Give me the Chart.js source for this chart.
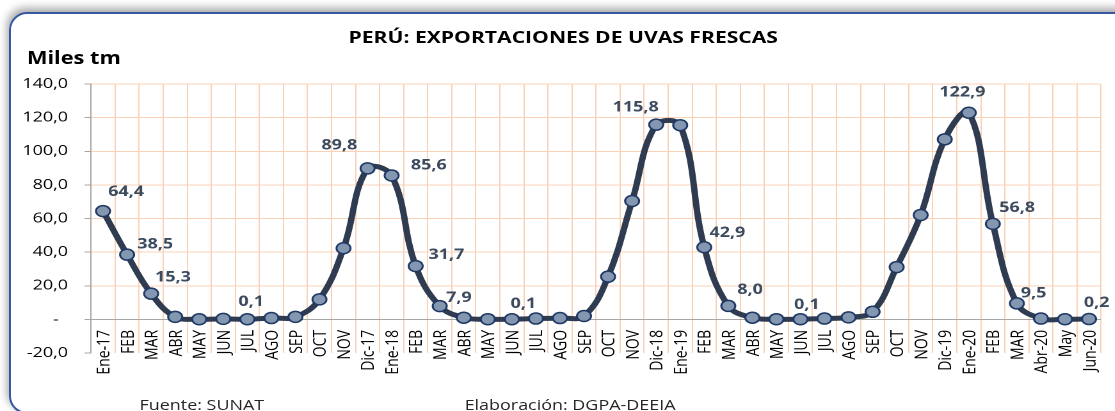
<!DOCTYPE html>
<html lang="es">
<head>
    <meta charset="UTF-8">
    <title>Perú: Exportaciones de uvas frescas</title>
    <style>
        body { margin: 0; background: #fff; overflow: hidden; }
        .page { position: relative; width: 1115px; height: 411px; overflow: hidden; }
        /* rounded frame with a soft shadow, like the pasted Excel chart */
        .frame {
            position: absolute; left: 9px; top: 12px; width: 1125px; height: 398px;
            border: 2px solid #3558a0; border-radius: 18px;
            box-shadow: -2px -4px 8px rgba(0,0,0,0.35);
        }
        /* the original picture is stretched sideways, so is this one */
        .stretch {
            position: absolute; left: 0; top: 0; width: 871px; height: 411px;
            transform: scaleX(1.28); transform-origin: 0 0;
            font-family: "Open Sans", sans-serif; color: #000;
        }
        .title { position: absolute; left: 0; top: 27px; width: 880px; text-align: center;
                 font-weight: bold; font-size: 16.5px; line-height: 20px; }
        .units { position: absolute; left: 21px; top: 47.5px; font-weight: bold; font-size: 17px; line-height: 20px; }
        .note { position: absolute; top: 396px; font-size: 14px; line-height: 18px; color: #262626; }
        #chartBox { position: absolute; left: 0; top: 0; width: 871px; height: 411px; }
    </style>
    <script src="https://cdn.jsdelivr.net/npm/chart.js"></script>
</head>
<body>
<div class="page">
    <div class="frame"></div>
    <div class="stretch">
        <div id="chartBox"><canvas id="uvasChart"></canvas></div>
        <div class="title">PERÚ: EXPORTACIONES DE UVAS FRESCAS</div>
        <div class="units">Miles tm</div>
        <div class="note" style="left:109px">Fuente: SUNAT</div>
        <div class="note" style="left:363px">Elaboración: DGPA-DEEIA</div>
    </div>
</div>

<script>
    // Months, Ene-17 .. Jun-20
    const months = ['Ene-17','FEB','MAR','ABR','MAY','JUN','JUL','AGO','SEP','OCT','NOV','Dic-17',
                    'Ene-18','FEB','MAR','ABR','MAY','JUN','JUL','AGO','SEP','OCT','NOV','Dic-18',
                    'Ene-19','FEB','MAR','ABR','MAY','JUN','JUL','AGO','SEP','OCT','NOV','Dic-19',
                    'Ene-20','FEB','MAR','Abr-20','May','Jun-20'];

    // Exports, thousand tonnes
    const exportsTm = [64.4, 38.5, 15.3, 1.5, 0.1, 0.3, 0.1, 0.8, 1.5, 11.9, 42.3, 89.8,
                       85.6, 31.7, 7.9, 1.0, 0.1, 0.1, 0.5, 0.8, 2.0, 25.4, 70.4, 115.8,
                       115.5, 42.9, 8.0, 1.0, 0.1, 0.1, 0.5, 1.2, 4.5, 31.1, 62.1, 107.1,
                       122.9, 56.8, 9.5, 0.5, 0.1, 0.2];

    // Y axis ticks
    const yTicks = [-20, 0, 20, 40, 60, 80, 100, 120, 140];

    // points that carry a value label
    const labelled = [0, 1, 2, 6, 11, 12, 13, 14, 17, 23, 25, 26, 29, 36, 37, 38, 41];

    // where each label sits relative to its point (unstretched px)
    const labelOffset = {
        0: [18, -19], 1: [22, -10], 2: [17, -16], 6: [3, -17], 11: [-22, -23], 12: [29, -10],
        13: [24, -11], 14: [15, -8], 17: [9, -15], 23: [-16, -17], 25: [18, -14], 26: [17, -16],
        29: [5, -14], 36: [-5, -20], 37: [19, -16], 38: [13, -10], 41: [6, -16]
    };

    const fmt = v => v.toFixed(1).replace('.', ',');
    const GRID = '#f9d2b6';
    const AXIS = '#a6a6a6';

    // draws the value labels next to the marked points
    const valueLabels = {
        id: 'valueLabels',
        afterDatasetsDraw(chart) {
            const ctx = chart.ctx;
            const meta = chart.getDatasetMeta(0);
            ctx.save();
            ctx.font = 'bold 14px "Open Sans", sans-serif';
            ctx.fillStyle = '#3b4a5e';
            ctx.textAlign = 'center';
            ctx.textBaseline = 'middle';
            labelled.forEach(i => {
                const pt = meta.data[i];
                const off = labelOffset[i] || [0, -15];
                ctx.fillText(fmt(exportsTm[i]), pt.x + off[0], pt.y + off[1]);
            });
            ctx.restore();
        }
    };

    // month labels: vertical, hanging from just under the zero line
    const monthLabels = {
        id: 'monthLabels',
        afterDatasetsDraw(chart) {
            const ctx = chart.ctx;
            const x = chart.scales.x;
            const top = chart.scales.y.getPixelForValue(0) + 10.5;
            ctx.save();
            ctx.font = '14px "Open Sans", sans-serif';
            ctx.fillStyle = '#000';
            ctx.textAlign = 'right';
            ctx.textBaseline = 'alphabetic';
            months.forEach((m, i) => {
                ctx.save();
                ctx.translate(x.getPixelForTick(i) + 5, top);
                ctx.rotate(-Math.PI / 2);
                ctx.fillText(m, 0, 0);
                ctx.restore();
            });
            ctx.restore();
        }
    };

    // y gridline colours: grey zero line, nothing at the bottom
    const yGridColor = c => {
        if (!c.tick) return GRID;
        if (c.tick.value === -20) return 'rgba(0,0,0,0)';
        if (c.tick.value === 0) return AXIS;
        return GRID;
    };

    const ctx = document.getElementById('uvasChart').getContext('2d');
    const chart = new Chart(ctx, {
        type: 'line',
        data: {
            labels: months,
            datasets: [{
                data: exportsTm,
                borderColor: '#2f3b50',
                borderWidth: 5,
                tension: 0.4,
                pointRadius: 5.5,
                pointBackgroundColor: '#8497b0',
                pointBorderColor: '#1f3864',
                pointBorderWidth: 1.5,
                clip: false
            }]
        },
        options: {
            responsive: true,
            maintainAspectRatio: false,
            animation: false,
            devicePixelRatio: 2,
            layout: { padding: { left: 0, right: 10.8, top: 84, bottom: 58 } },
            plugins: { legend: { display: false }, tooltip: { enabled: false } },
            scales: {
                x: {
                    offset: true,
                    afterFit: s => { s.height = 0; s.paddingLeft = 0; s.paddingRight = 0; },
                    grid: { offset: true, color: GRID, drawTicks: false },
                    border: { display: false },
                    ticks: { display: false, autoSkip: false }
                },
                y: {
                    min: -20, max: 140,
                    afterFit: s => { s.width = 71.1; },
                    afterBuildTicks: s => { s.ticks = yTicks.map(v => ({ value: v })); },
                    grid: { color: yGridColor, tickColor: AXIS, tickLength: 5 },
                    border: { color: AXIS, width: 1 },
                    ticks: {
                        padding: 13, color: '#000',
                        font: { family: '"Open Sans", sans-serif', size: 14 },
                        callback: v => v === 0 ? '-  ' : fmt(v)
                    }
                }
            }
        },
        plugins: [valueLabels, monthLabels]
    });
</script>
</body>
</html>
